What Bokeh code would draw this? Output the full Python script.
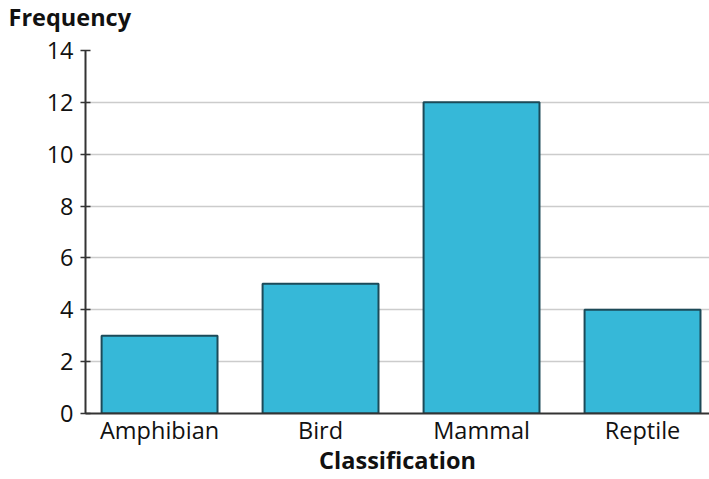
from bokeh.plotting import figure
from bokeh.models import Range1d, FixedTicker, ColumnDataSource, Title
from bokeh.embed import file_html
from bokeh.resources import INLINE

categories = ["Amphibian", "Bird", "Mammal", "Reptile"]
frequency = [3, 5, 12, 4]
y_ticks = [0, 2, 4, 6, 8, 10, 12, 14]
y_title = "Frequency"
x_title = "Classification"

positions = list(range(len(categories)))
src = ColumnDataSource(dict(x=positions, top=frequency, name=categories))

FONT = "Open Sans"
FS = "23.5px"

p = figure(width=709, height=479, output_backend="svg", toolbar_location=None,
           x_range=Range1d(-0.46, 3.416), y_range=Range1d(0, 14),
           min_border_left=85, min_border_right=0, min_border_bottom=66, min_border_top=0)
p.title = None

p.vbar(x="x", top="top", width=0.72, bottom=0, source=src,
       fill_color="#36b8d8", line_color="#1c4a58", line_width=2)

# spacer between title and plot frame (nearest to the frame)
p.add_layout(Title(text=" ", text_font_size="1px", standoff=12.6), "above")
# the "Frequency" heading (outermost)
p.add_layout(Title(text=y_title, text_font=FONT, text_font_size=FS, text_font_style="bold",
                   text_color="#111111", align="left", offset=-77,
                   vertical_align="top", standoff=0), "above")

p.outline_line_color = None
p.background_fill_color = "white"

p.xgrid.grid_line_color = None
p.ygrid.grid_line_color = "#cccccc"
p.ygrid.grid_line_width = 1.5
p.ygrid.ticker = FixedTicker(ticks=y_ticks)

p.yaxis.ticker = FixedTicker(ticks=y_ticks)
p.yaxis.major_tick_in = 5
p.yaxis.major_tick_out = 5
p.yaxis.minor_tick_line_color = None
p.yaxis.axis_line_color = "#333333"
p.yaxis.axis_line_width = 2
p.yaxis.major_tick_line_color = "#333333"
p.yaxis.major_tick_line_width = 1.5
p.yaxis.major_label_text_font = FONT
p.yaxis.major_label_text_font_size = FS
p.yaxis.major_label_text_color = "#111111"
p.yaxis.major_label_standoff = 7

p.xaxis.ticker = FixedTicker(ticks=positions)
p.xaxis.major_label_overrides = {i: c for i, c in enumerate(categories)}
p.xaxis.major_tick_in = 0
p.xaxis.major_tick_out = 0
p.xaxis.minor_tick_line_color = None
p.xaxis.axis_line_color = "#333333"
p.xaxis.axis_line_width = 2
p.xaxis.major_label_text_font = FONT
p.xaxis.major_label_text_font_size = FS
p.xaxis.major_label_text_color = "#111111"
p.xaxis.major_label_standoff = 0
p.xaxis.axis_label = x_title
p.xaxis.axis_label_text_font = FONT
p.xaxis.axis_label_text_font_size = FS
p.xaxis.axis_label_text_font_style = "bold"
p.xaxis.axis_label_text_color = "#111111"
p.xaxis.axis_label_standoff = -5

open("out.html", "w").write(file_html(p, INLINE))
